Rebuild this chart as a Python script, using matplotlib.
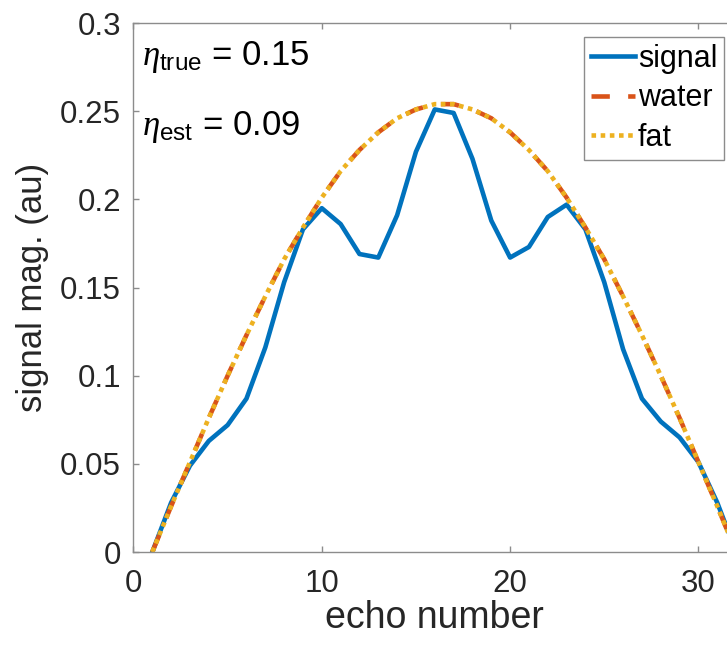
import matplotlib
matplotlib.use('Agg')
import matplotlib.pyplot as plt

plt.rcParams['font.family'] = ['Liberation Sans', 'DejaVu Sans']
plt.rcParams['mathtext.fontset'] = 'custom'
plt.rcParams['mathtext.rm'] = 'Liberation Sans'
plt.rcParams['mathtext.it'] = 'Liberation Serif:italic'

# echo numbers 1..32
echo = list(range(1, 33))

# measured signal magnitude
signal = [0.000, 0.028, 0.049, 0.063, 0.072, 0.087, 0.116, 0.153,
          0.183, 0.195, 0.186, 0.169, 0.167, 0.191, 0.227, 0.251,
          0.249, 0.223, 0.188, 0.167, 0.173, 0.190, 0.197, 0.183,
          0.153, 0.115, 0.087, 0.074, 0.065, 0.051, 0.028, 0.000]

# water / fat model curves
water = [0.000, 0.026, 0.051, 0.076, 0.100, 0.123, 0.145, 0.166,
         0.184, 0.201, 0.216, 0.228, 0.238, 0.246, 0.251, 0.254,
         0.254, 0.251, 0.246, 0.238, 0.228, 0.216, 0.201, 0.184,
         0.166, 0.145, 0.123, 0.100, 0.076, 0.051, 0.026, 0.000]
fat = [0.000, 0.026, 0.051, 0.076, 0.100, 0.123, 0.145, 0.166,
       0.184, 0.201, 0.216, 0.228, 0.238, 0.246, 0.251, 0.254,
       0.254, 0.251, 0.246, 0.238, 0.228, 0.216, 0.201, 0.184,
       0.166, 0.145, 0.123, 0.100, 0.076, 0.051, 0.026, 0.000]

yticks = [0, 0.05, 0.1, 0.15, 0.2, 0.25, 0.3]
ytick_labels = ['0', '0.05', '0.1', '0.15', '0.2', '0.25', '0.3']
xticks = [0, 10, 20, 30]

fig = plt.figure(figsize=(7.27, 6.47), dpi=100)
ax = fig.add_axes([0.1836, 0.1468, 0.8289, 0.8176])

ax.plot(echo, signal, color='#0072BD', lw=3.3, label='signal')
ax.plot(echo, water, color='#D95319', lw=3.3, ls=(0, (4, 4)), label='water')
ax.plot(echo, fat, color='#EDB120', lw=3.3, ls=(0, (1, 1)), label='fat')

ax.set_xlim(0, 32)
ax.set_ylim(0, 0.3)
ax.set_xticks(xticks)
ax.set_yticks(yticks)
ax.set_yticklabels(ytick_labels)

gray = '#8c8c8c'
for s in ax.spines.values():
    s.set_color(gray)
    s.set_linewidth(1.0)
ax.tick_params(direction='in', length=4.5, width=1.0, color=gray,
               labelsize=22.5, labelcolor='#262626', top=True, right=True)
ax.tick_params(axis='x', pad=12)
ax.tick_params(axis='y', pad=9)

ax.set_xlabel('echo number', fontsize=27, color='#262626', labelpad=1)
ax.set_ylabel('signal mag. (au)', fontsize=25, color='#262626', labelpad=8)

ax.text(0.45, 0.276, r'$\eta_{\mathrm{true}}$ = 0.15', fontsize=25, color='black')
ax.text(0.45, 0.2365, r'$\eta_{\mathrm{est}}$ = 0.09', fontsize=25, color='black')

leg = ax.legend(loc='upper right', bbox_to_anchor=(0.996, 0.943),
                bbox_transform=fig.transFigure, fontsize=22,
                fancybox=False, framealpha=1, edgecolor=gray,
                handlelength=1.45, handletextpad=0.1, labelspacing=0.32,
                borderpad=0.22, borderaxespad=0)
leg.get_frame().set_linewidth(1.0)

fig.savefig('out.png', dpi=100)
